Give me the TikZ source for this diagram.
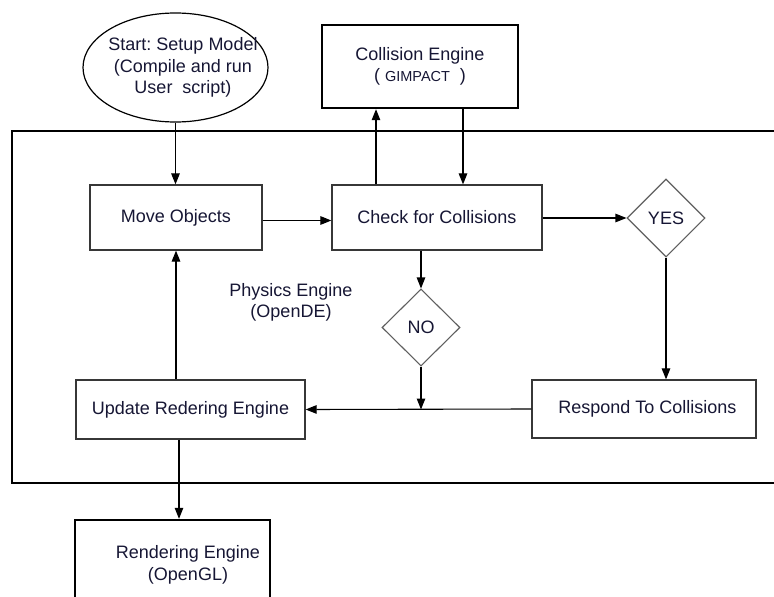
\documentclass[tikz,border=0pt]{standalone}
\usepackage{fontspec}
\setmainfont{Liberation Sans}
\usetikzlibrary{shapes.geometric,arrows.meta,calc}
\definecolor{textc}{RGB}{22,22,52}
\definecolor{boxgray}{RGB}{55,55,55}
\definecolor{diagray}{RGB}{95,95,95}
\frenchspacing
\begin{document}
\begin{tikzpicture}[x=1pt,y=-1pt,
  every node/.style={font=\fontsize{18}{21.5}\selectfont, text=textc},
  thinbox/.style={draw=boxgray, line width=1.2pt, fill=white, inner sep=0pt},
  thickbox/.style={draw=black, line width=2.4pt, inner sep=0pt},
  decision/.style={diamond, draw=diagray, line width=1.1pt, inner sep=0pt, minimum width=78pt, minimum height=78pt},
  arr/.style={draw=black, line width=1.1pt, -{Triangle[length=11pt,width=8.5pt]}}
]
\useasboundingbox (0,0) rectangle (774,597);
\clip (0,0) rectangle (774,597);
% physics engine container
\node[thickbox, minimum width=788pt, minimum height=352pt] (physbox) at (406,307) {};
\node[align=center] (phys) at (291,302.5) {Physics Engine\\(OpenDE)};
% start ellipse
\node[ellipse, draw=black, line width=1.2pt, inner sep=0pt, minimum width=185pt, minimum height=109pt,
  label={[xshift=7.5pt,align=center,text=textc]center:Start: Setup Model\\(Compile and run\\User\ \ script)}]
  (start) at (175.5,67.5) {};
% collision engine
\node[thickbox, minimum width=196pt, minimum height=83pt, align=center] (coll) at (420,66.5)
  {Collision Engine\\( {\fontsize{14.5}{16}\selectfont GIMPACT}\ \ )};
% process boxes
\node[thinbox, minimum width=172pt, minimum height=65pt] (move) at (176,217.5) {Move Objects};
\node[thinbox, minimum width=210pt, minimum height=65pt] (check) at (437,217.5) {Check for Collisions};
\node[decision] (yes) at (666,218) {YES};
\node[decision, minimum height=77pt] (no) at (421,327.5) {NO};
\node[thinbox, minimum width=224pt, minimum height=58pt] (resp) at (644,409)
  {\hspace*{7pt}Respond To Collisions};
\node[thinbox, minimum width=229pt, minimum height=59pt] (upd) at (190.5,409.5) {Update Redering Engine};
\node[thickbox, minimum width=195pt, minimum height=100pt,
  label={[xshift=15.5pt,yshift=5pt,align=center,text=textc]center:Rendering Engine\\(OpenGL)}]
  (rend) at (172.5,570) {};
% connectors
\draw[arr] (start.south) -- (start.south |- move.north);
\draw[arr] ([yshift=-3pt]move.east) -- ([yshift=-3pt]check.west);
\coordinate (cu) at ([xshift=-44pt]coll.south);
\coordinate (cd) at ([xshift=43pt]coll.south);
\draw[arr] (cu |- check.north) -- (cu);
\draw[arr] (cd) -- (cd |- check.north);
\draw[arr] (check.east |- yes.west) -- (yes.west);
\draw[arr] (no.north |- check.south) -- (no.north);
\coordinate (join) at (no.south |- upd.east);
\draw[arr] (no.south) -- (join);
\draw[arr] (resp.west) -- (upd.east);
\draw[arr] (yes.south) -- (yes.south |- resp.north);
\draw[arr] (move.south |- upd.north) -- (move.south);
\coordinate (ud) at ([xshift=-11.5pt]upd.south);
\draw[arr] (ud) -- (ud |- rend.north);
\end{tikzpicture}
\end{document}
